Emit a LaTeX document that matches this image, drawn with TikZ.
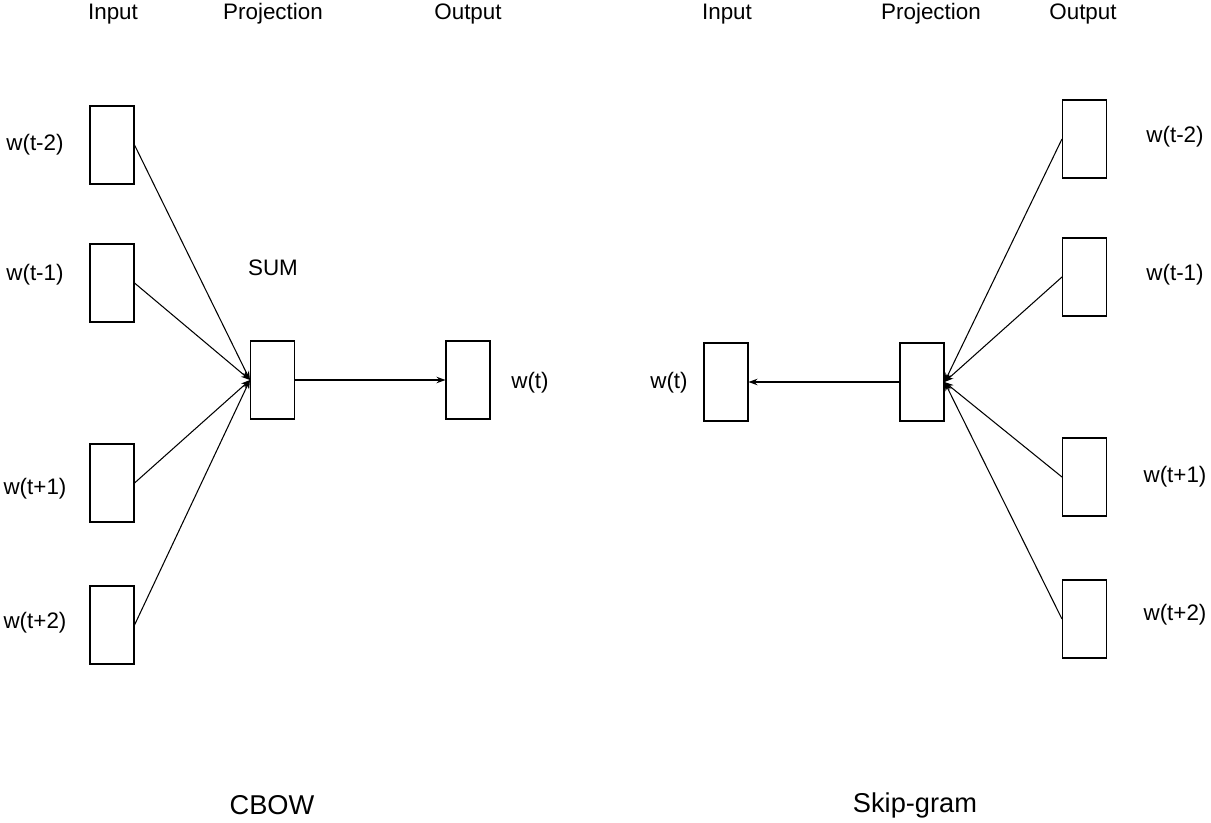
\documentclass[tikz,border=0pt]{standalone}
\usepackage{fontspec}
\setmainfont{Liberation Sans}
\usetikzlibrary{arrows.meta}
\tikzset{
  vec/.style={draw,line width=0.6pt,minimum width=0.88cm,minimum height=1.56cm,inner sep=0pt},
  lbl/.style={font=\fontsize{12.75}{15}\selectfont,inner sep=0pt},
  title/.style={font=\fontsize{15.5}{18}\selectfont,inner sep=0pt},
  link/.style={line width=0.6pt,-{Stealth[length=0.18cm,width=0.13cm]}}
}
\begin{document}
\begin{tikzpicture}[x=0.02cm,y=-0.02cm]
\useasboundingbox (0,0) rectangle (1211,822);

% CBOW
\node[lbl] at (113,14) {Input};
\node[lbl] at (273,14) {Projection};
\node[lbl] at (468,14) {Output};

\node[vec] (cin1) at (112,145) {};
\node[vec] (cin2) at (112,283) {};
\node[vec] (cin3) at (112,483) {};
\node[vec] (cin4) at (112,625) {};
\node[lbl] at (35,145) {w(t-2)};
\node[lbl] at (35,275) {w(t-1)};
\node[lbl] at (35,489) {w(t+1)};
\node[lbl] at (35,623) {w(t+2)};

\node[vec] (cproj) at (272.5,380) {};
\node[lbl] at (273,268) {SUM};
\node[vec] (cout) at (468,380) {};
\node[lbl] at (530,383) {w(t)};

\draw[link] (cin1.east) -- (cproj.west);
\draw[link] (cin2.east) -- (cproj.west);
\draw[link] (cin3.east) -- (cproj.west);
\draw[link] (cin4.east) -- (cproj.west);
\draw[link] (cproj.east) -- (cout.west);

\node[title] at (272,805) {CBOW};

% Skip-gram
\node[lbl] at (727,14) {Input};
\node[lbl] at (931,14) {Projection};
\node[lbl] at (1083,14) {Output};

\node[vec] (sin) at (726,382) {};
\node[lbl] at (669,383) {w(t)};
\node[vec] (sproj) at (922,382) {};

\node[vec] (sout1) at (1084.5,139) {};
\node[vec] (sout2) at (1084.5,277) {};
\node[vec] (sout3) at (1084.5,477) {};
\node[vec] (sout4) at (1084.5,619) {};
\node[lbl] at (1175,137) {w(t-2)};
\node[lbl] at (1175,275) {w(t-1)};
\node[lbl] at (1175,477) {w(t+1)};
\node[lbl] at (1175,615) {w(t+2)};

\draw[link] (sout1.west) -- (sproj.east);
\draw[link] (sout2.west) -- (sproj.east);
\draw[link] (sout3.west) -- (sproj.east);
\draw[link] (sout4.west) -- (sproj.east);
\draw[link] (sproj.west) -- (sin.east);

\node[title] at (915,805) {Skip-gram};
\end{tikzpicture}
\end{document}
